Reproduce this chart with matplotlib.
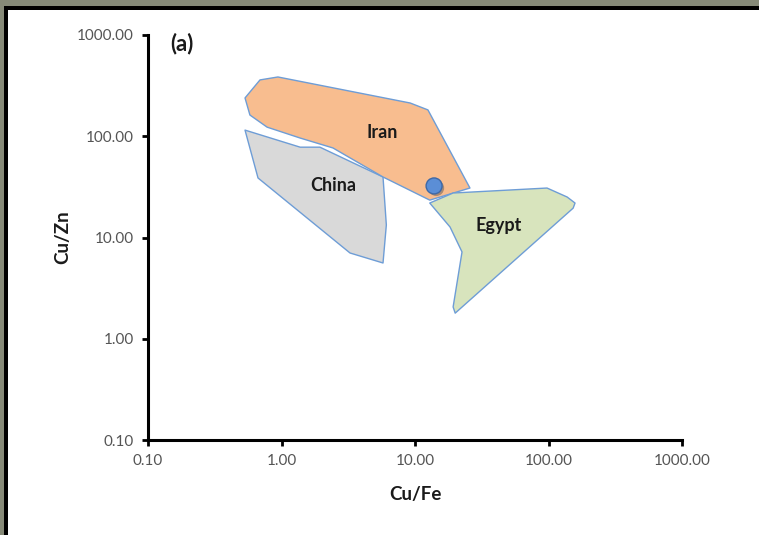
import matplotlib
matplotlib.use("Agg")
import matplotlib.pyplot as plt
from matplotlib.patches import Polygon, Rectangle
from matplotlib.ticker import FixedLocator, FixedFormatter, NullLocator
import matplotlib.patheffects as pe

plt.rcParams['font.family'] = ['Lato', 'DejaVu Sans']

# Provenance fields (Cu/Fe, Cu/Zn)
iran_cufe = [0.69, 0.94, 9.2, 12.5, 25.8, 12.9, 5.76, 2.43, 1.38, 0.78, 0.58, 0.533]
iran_cuzn = [360, 385, 213, 182, 30.8, 23.4, 39.6, 76.6, 96, 123, 162, 239]

china_cufe = [0.533, 1.38, 1.94, 5.76, 6.1, 5.76, 3.26, 0.667]
china_cuzn = [115, 78, 78, 39.6, 13.3, 5.6, 7.03, 38.7]

egypt_cufe = [12.9, 19.3, 97.5, 138, 158, 153, 20.0, 19.3, 22.5, 18.3]
egypt_cuzn = [21.9, 27.5, 30.8, 25.1, 21.9, 19.5, 1.79, 2.06, 7.2, 12.7]

# Sample
sample_cufe = [13.9]
sample_cuzn = [32.3]

field_names = ["Iran", "China", "Egypt"]
label_cufe = [5.66, 2.43, 42.6]
label_cuzn = [110, 32.3, 13.0]

tick_values = [0.1, 1, 10, 100, 1000]
tick_labels = ["0.10", "1.00", "10.00", "100.00", "1000.00"]

W, H = 759, 535
fig = plt.figure(figsize=(W / 100, H / 100), dpi=100)
fig.patch.set_facecolor("white")

# outer frame: grey band and black rule along the top and left edges
fig.add_artist(Rectangle((0, 1 - 6 / H), 1, 6 / H, transform=fig.transFigure,
                         facecolor="#868a78", edgecolor="none"))
fig.add_artist(Rectangle((0, 1 - 10 / H), 1, 4 / H, transform=fig.transFigure,
                         facecolor="#000000", edgecolor="none"))
fig.add_artist(Rectangle((0, 0), 4 / W, 1, transform=fig.transFigure,
                         facecolor="#868a78", edgecolor="none"))
fig.add_artist(Rectangle((4 / W, 0), 4 / W, 1 - 6 / H, transform=fig.transFigure,
                         facecolor="#000000", edgecolor="none"))

ax = fig.add_axes([148 / W, 1 - 440 / H, (682 - 148) / W, (440 - 35) / H])
ax.set_xscale("log")
ax.set_yscale("log")
ax.set_xlim(0.1, 1000)
ax.set_ylim(0.1, 1000)

edge = "#6e9dd6"
fields = [
    (china_cufe, china_cuzn, "#d9d9d9"),
    (iran_cufe, iran_cuzn, "#f8bd8f"),
    (egypt_cufe, egypt_cuzn, "#d8e4bd"),
]
for xs, ys, fc in fields:
    ax.add_patch(Polygon(list(zip(xs, ys)), closed=True, facecolor=fc,
                         edgecolor=edge, linewidth=1.0, joinstyle="round"))

for name, x, y in zip(field_names, label_cufe, label_cuzn):
    ax.text(x, y, name, ha="center", va="center", fontsize=13,
            fontweight="bold", color="#1a1a1a")

ax.plot(sample_cufe, sample_cuzn, "o", markersize=11.5, markerfacecolor="#5b8ed6",
        markeredgecolor="#3e68a6", markeredgewidth=1.0, zorder=5,
        path_effects=[pe.SimplePatchShadow(offset=(1.5, -1.5), alpha=0.35), pe.Normal()])

for s in ["top", "right"]:
    ax.spines[s].set_visible(False)
for s in ["left", "bottom"]:
    ax.spines[s].set_linewidth(2.2)
    ax.spines[s].set_color("black")

for axis in (ax.xaxis, ax.yaxis):
    axis.set_major_locator(FixedLocator(tick_values))
    axis.set_major_formatter(FixedFormatter(tick_labels))
    axis.set_minor_locator(NullLocator())
ax.tick_params(which="major", direction="out", length=4, width=2, color="black",
               labelsize=11, labelcolor="#555555", pad=6)

ax.set_xlabel("Cu/Fe", fontsize=13.5, fontweight="bold", color="#1a1a1a", labelpad=13)
ax.set_ylabel("Cu/Zn", fontsize=13.5, fontweight="bold", color="#1a1a1a", labelpad=4)
ax.text(0.041, 0.980, "(a)", transform=ax.transAxes, fontsize=16, fontweight="bold",
        color="#1a1a1a", ha="left", va="center")

fig.savefig("out.png", dpi=100, facecolor="white")
